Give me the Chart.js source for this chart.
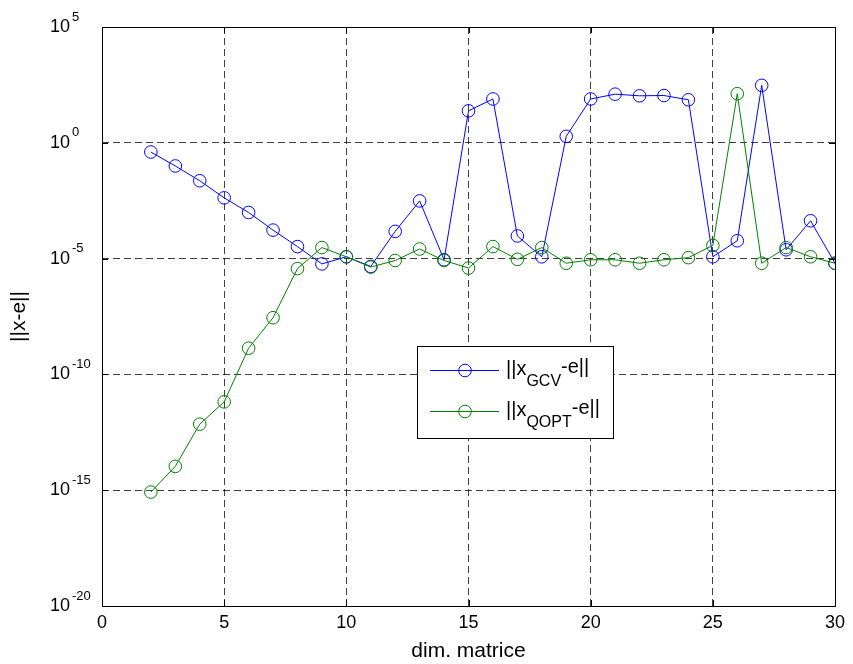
<!DOCTYPE html>
<html>
<head>
<meta charset="utf-8">
<script src="https://cdn.jsdelivr.net/npm/chart.js@4"></script>
<style>
html,body{margin:0;padding:0;background:#fff;}
#wrap{width:853px;height:664px;}
</style>
</head>
<body>
<div id="wrap"><canvas id="chart" width="853" height="664"></canvas></div>
<script>
const dims=[2,3,4,5,6,7,8,9,10,11,12,13,14,15,16,17,18,19,20,21,22,23,24,25,26,27,28,29,30];
const errGCV=[4.0e-1,1.0e-1,2.3e-2,4.2e-3,9.8e-4,1.7e-4,3.3e-5,5.9e-6,1.2e-5,4.6e-6,1.5e-4,3.1e-3,8.9e-6,24,78,9.5e-5,1.2e-5,1.9,78,126,107,110,72,1.2e-5,5.9e-5,302,2.4e-5,4.3e-4,6.3e-6];
const errQOPT=[8.3e-16,1.07e-14,7.1e-13,6.5e-12,1.35e-9,2.8e-8,3.7e-6,3.0e-5,1.2e-5,4.3e-6,8.3e-6,2.6e-5,8.3e-6,3.9e-6,3.3e-5,9.3e-6,3.0e-5,6.3e-6,8.9e-6,8.9e-6,6.3e-6,8.9e-6,1.1e-5,3.7e-5,132,6.3e-6,3.0e-5,1.2e-5,6.3e-6];
const yExps=[-20,-15,-10,-5,0,5];
const xTicks=[0,5,10,15,20,25,30];
const seriesNames=[["||x","GCV","-e||"],["||x","QOPT","-e||"]];
const seriesColors=["#0000ff","#008000"];

const FONT="'Liberation Sans', Arial, Helvetica, sans-serif";

function pts(vals){return dims.map((d,i)=>({x:d,y:vals[i]}));}

// box, inner tick marks, y tick labels with exponents, legend
const matlabAxes={
id:"matlabAxes",
afterDraw(chart){
const ctx=chart.ctx,a=chart.chartArea,xs=chart.scales.x,ys=chart.scales.y;
ctx.save();
ctx.strokeStyle="#000";ctx.lineWidth=1;
ctx.strokeRect(Math.round(a.left)+0.5,Math.round(a.top)+0.5,Math.round(a.right-a.left),Math.round(a.bottom-a.top));
ctx.beginPath();
xTicks.forEach(v=>{
const px=Math.round(xs.getPixelForValue(v))+0.5;
ctx.moveTo(px,a.bottom);ctx.lineTo(px,a.bottom-6);
ctx.moveTo(px,a.top);ctx.lineTo(px,a.top+6);
});
yExps.forEach(e=>{
const py=Math.round(ys.getPixelForValue(Math.pow(10,e)))+0.5;
ctx.moveTo(a.left,py);ctx.lineTo(a.left+6,py);
ctx.moveTo(a.right,py);ctx.lineTo(a.right-6,py);
});
ctx.stroke();

ctx.fillStyle="#000";ctx.textBaseline="middle";
yExps.forEach(e=>{
const py=ys.getPixelForValue(Math.pow(10,e));
ctx.font="18px "+FONT;ctx.textAlign="right";
ctx.fillText("10",70,py);
ctx.font="13px "+FONT;ctx.textAlign="left";
ctx.fillText(String(e),72,py-10);
});

// legend
const lx=417,ly=346,lw=196,lh=92;
ctx.fillStyle="#fff";ctx.fillRect(lx,ly,lw,lh);
ctx.strokeStyle="#000";ctx.strokeRect(lx+0.5,ly+0.5,lw,lh);
seriesNames.forEach((n,i)=>{
const y=ly+24+i*41;
ctx.strokeStyle=seriesColors[i];ctx.lineWidth=1;
ctx.beginPath();ctx.moveTo(430,y+0.5);ctx.lineTo(499,y+0.5);ctx.stroke();
ctx.beginPath();ctx.arc(465,y+0.5,6.3,0,Math.PI*2);ctx.stroke();
ctx.fillStyle="#000";ctx.textAlign="left";ctx.textBaseline="middle";
let x=506;
ctx.font="20px "+FONT;ctx.fillText(n[0],x,y-1);x+=ctx.measureText(n[0]).width;
ctx.font="16px "+FONT;ctx.fillText(n[1],x,y+12);x+=ctx.measureText(n[1]).width;
ctx.font="20px "+FONT;ctx.fillText(n[2],x,y-3);
});
ctx.restore();
}
};

const gridCol=(ctx)=>{
const t=ctx.tick;
if(!t) return "rgba(0,0,0,0)";
const s=ctx.scale;
if(s.axis==="x"&&(t.value===0||t.value===30)) return "rgba(0,0,0,0)";
if(s.axis==="y"&&(t.value<=1e-20*1.01||t.value>=1e5*0.99)) return "rgba(0,0,0,0)";
return "rgba(0,0,0,0.75)";
};

new Chart(document.getElementById("chart").getContext("2d"),{
type:"line",
data:{
datasets:[
{label:"GCV",data:pts(errGCV),borderColor:seriesColors[0],backgroundColor:"rgba(0,0,0,0)",borderWidth:1,pointRadius:6.3,pointBorderWidth:1,pointBackgroundColor:"rgba(0,0,0,0)",pointBorderColor:seriesColors[0],tension:0,order:2},
{label:"QOPT",data:pts(errQOPT),borderColor:seriesColors[1],backgroundColor:"rgba(0,0,0,0)",borderWidth:1,pointRadius:6.3,pointBorderWidth:1,pointBackgroundColor:"rgba(0,0,0,0)",pointBorderColor:seriesColors[1],tension:0,order:1}
]
},
options:{
responsive:false,animation:false,
layout:{padding:{top:27,right:18,left:0,bottom:0}},
plugins:{legend:{display:false},tooltip:{enabled:false}},
scales:{
x:{
type:"linear",min:0,max:30,
afterBuildTicks:s=>{s.ticks=xTicks.map(v=>({value:v}));},
afterFit:s=>{s.height=58;},
grid:{color:gridCol,drawTicks:false,lineWidth:1},
border:{display:false,dash:[7,4]},
ticks:{color:"#000",font:{family:FONT,size:18},padding:6,maxRotation:0},
title:{display:true,text:"dim. matrice",color:"#000",font:{family:FONT,size:21},padding:{top:0,bottom:0}}
},
y:{
type:"logarithmic",min:1e-20,max:1e5,
afterBuildTicks:s=>{s.ticks=yExps.map(e=>({value:Math.pow(10,e)}));},
afterFit:s=>{s.width=102;},
grid:{color:gridCol,drawTicks:false,lineWidth:1},
border:{display:false,dash:[7,4]},
ticks:{callback:()=>""},
title:{display:true,text:"||x-e||",color:"#000",font:{family:FONT,size:21},padding:{top:7,bottom:0}}
}
}
},
plugins:[matlabAxes]
});
</script>
</body>
</html>
